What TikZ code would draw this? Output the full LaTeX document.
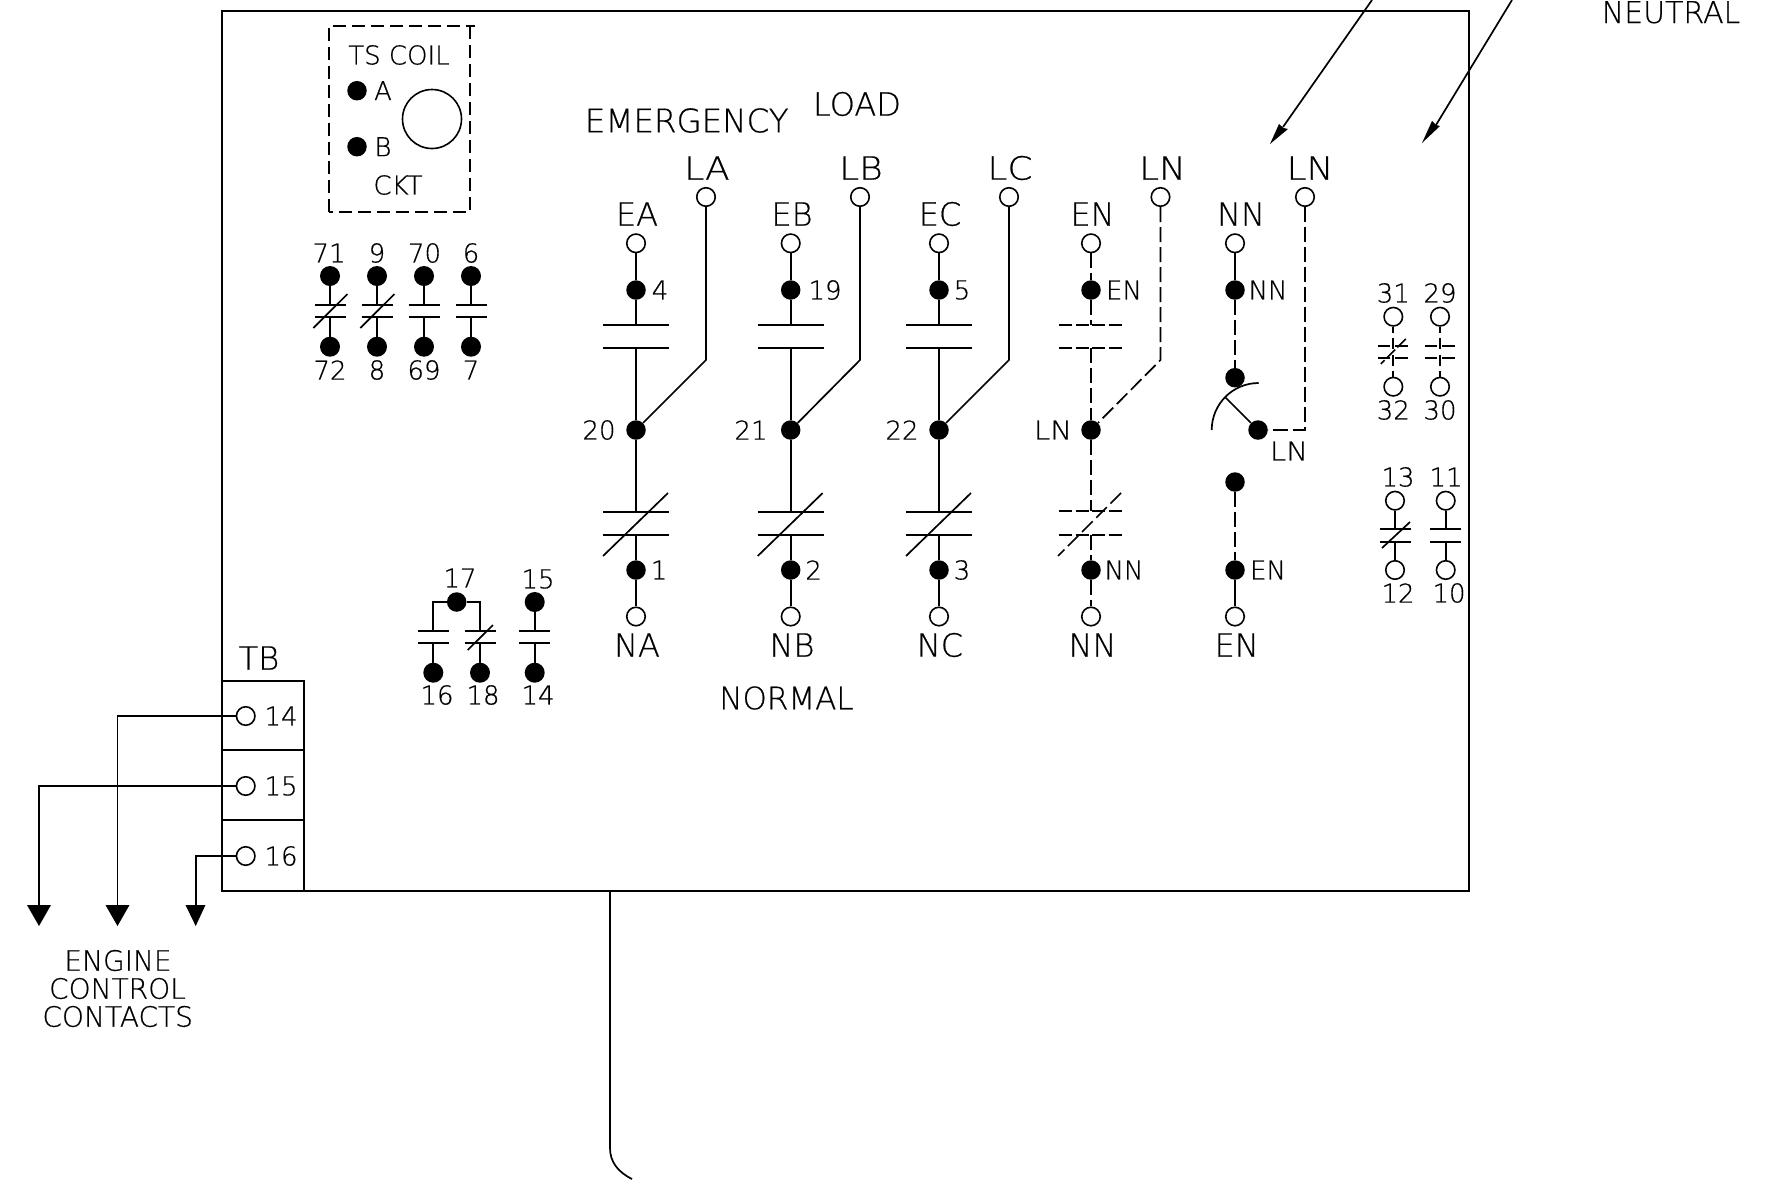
\documentclass[tikz,border=0pt]{standalone}
\usepackage{fontspec}
\setmainfont[FakeBold=0.5]{DejaVu Sans ExtraLight}
\usetikzlibrary{calc}
\tikzset{
  x=1pt,y=-1pt,
  wire/.style={line width=1.7pt,black},
  dwire/.style={line width=1.7pt,black,dash pattern=on 15pt off 5pt},
  dbar/.style={line width=1.7pt,black,dash pattern=on 13pt off 3.5pt},
  hollow/.style={circle,draw=black,line width=1.6pt,fill=white,minimum size=18.5pt,inner sep=0pt},
  solid dot/.style={circle,fill=black,minimum size=19.5pt,inner sep=0pt},
  big/.style={inner sep=0pt,font=\fontsize{32}{32}\selectfont},
  small/.style={inner sep=0pt,font=\fontsize{26}{26}\selectfont},
  mini/.style={inner sep=0pt,font=\fontsize{28}{28}\selectfont},
  tip/.style={fill=black,draw=none},
}
\newcommand{\wl}[1]{\scalebox{1.12}[1]{#1}}
\newcommand{\barpair}[6]{%
  \coordinate (#1ua) at (#2-#5,#3); \coordinate (#1ub) at (#2+#5,#3);
  \coordinate (#1la) at (#2-#5,#4); \coordinate (#1lb) at (#2+#5,#4);
  \draw[#6] (#1ua) -- (#1ub);
  \draw[#6] (#1la) -- (#1lb);
}
\begin{document}
\begin{tikzpicture}
\useasboundingbox (0,0) rectangle (1772,1179);
\fill[white] (0,0) rectangle (1772,1179);

% enclosure
\coordinate (bl) at (222,891); \coordinate (tr) at (1469,11);
\draw[wire] (bl) rectangle (tr);
% terminal block
\draw[wire] (222,681) rectangle (304,891);
\draw[wire] (222,750) -- (304,750);
\draw[wire] (222,820) -- (304,820);
\node[big] (tb) at (259,658) {TB};
\node[hollow] (t14) at (245.7,716) {};
\node[hollow] (t15) at (245.7,786) {};
\node[hollow] (t16) at (245.7,856) {};
\node[small] (l14) at (281,716) {14};
\node[small] (l15) at (281,786) {15};
\node[small] (l16) at (281,856) {16};
\coordinate (a14) at (117.5,906); \coordinate (a15) at (39,906); \coordinate (a16) at (195.7,906);
\draw[wire] (t14.west) -| (a14);
\draw[wire] (t15.west) -| (a15);
\draw[wire] (t16.west) -| (a16);
\fill[tip] (105.5,905) -- (129.5,905) -- (117.5,926) -- cycle;
\fill[tip] (27,905) -- (51,905) -- (39,926) -- cycle;
\fill[tip] (185.5,905) -- (205.5,905) -- (195.7,926) -- cycle;
\node[mini] (eng1) at (118,960.5) {ENGINE};
\node[mini] (eng2) at (117.5,988.5) {CONTROL};
\node[mini] (eng3) at (117.7,1016.5) {CONTACTS};

% cable below
\coordinate (c0) at (610,891);
\draw[wire] (c0) -- (610,1148) .. controls (610,1162) and (618,1172) .. (632,1179);

% feed arrows
\coordinate (f1) at (1372,0); \coordinate (f2) at (1512,0);
\draw[wire] (f1) -- (1283,127);
\draw[wire] (f2) -- (1436,125);
\fill[tip] (1270,144) -- (1279,124) -- (1283.5,128) -- (1288,129) -- cycle;
\fill[tip] (1422,143) -- (1432,121) -- (1436,125) -- (1440,126) -- cycle;
\node[big,anchor=base,font=\fontsize{30}{30}\selectfont] (neu) at (1671,23) {NEUTRAL};

% TS coil box
\draw[line width=1.6pt,dash pattern=on 13pt off 6pt] (329,212) -- (329,26) -- (475,26);
\draw[line width=1.6pt,dash pattern=on 13pt off 6pt] (470,26) -- (470,212) -- (329,212);
\node[small] (ts) at (399,55) {TS COIL};
\node[solid dot] (da) at (357,90.7) {};
\node[solid dot] (db) at (357,146.7) {};
\node[small] (la) at (383,90.7) {A};
\node[small] (lb) at (383,146.7) {B};
\draw[line width=1.6pt] (432,119) circle (29.5);
\node[small] (ckt) at (398,185) {CKT};

% small contacts top left
\foreach \n/\x/\t/\b/\tx/\bx/\sl in {a/330/71/72/329/330/1,b/377/9/8/377/377/1,c/424/70/69/424.5/424/0,d/471/6/7/471/471/0}{
  \node[solid dot,minimum size=20pt] (\n t) at (\x,276) {};
  \node[solid dot,minimum size=20pt] (\n b) at (\x,346.7) {};
  \barpair{\n}{\x}{305}{316.7}{15.5}{wire}
  \draw[wire] (\n t) -- (\x,305);
  \draw[wire] (\n b) -- (\x,316.7);
  \ifnum\sl=1 \draw[wire] (\x-16.7,328) -- (\x+17.5,294); \fi
  \node[small] at (\tx,253) {\t};
  \node[small] at (\bx,370) {\b};
}

% lower-left group
\node[solid dot] (d17) at (456.7,602) {};
\node[solid dot,minimum size=20pt] (d15) at (534.7,602) {};
\node[solid dot,minimum size=20pt] (d16) at (433.3,672.7) {};
\node[solid dot,minimum size=20pt] (d18) at (480,672.7) {};
\node[solid dot,minimum size=20pt] (d14) at (534.7,672.7) {};
\barpair{p}{433.3}{631}{643.3}{15.5}{wire}
\barpair{q}{480}{631}{643.3}{15.5}{wire}
\barpair{r}{534.7}{631}{643.3}{15.5}{wire}
\draw[wire] (d17) -| (433.3,631);
\draw[wire] (d17) -| (480,631);
\draw[wire] (d16) -- (433.3,643.3);
\draw[wire] (d18) -- (480,643.3);
\draw[wire] (d15) -- (534.7,631);
\draw[wire] (d14) -- (534.7,643.3);
\draw[wire] (467.7,650) -- (493,625);
\node[small] at (460,578) {17};
\node[small] at (538,579) {15};
\node[small] at (437,695) {16};
\node[small] at (483,695) {18};
\node[small] at (538,695) {14};

% main poles
\node[big,font=\fontsize{32.5}{32.5}\selectfont] at (686.7,120.5) {EMERGENCY};
\node[big] at (857,104) {LOAD};
\node[big,font=\fontsize{31}{31}\selectfont] at (786.5,698) {NORMAL};
\foreach \n/\x/\lx/\upn/\lon/\mid/\midx/\up/\lo/\dig/\topl/\lotxt/\txx/\ltxx/\botx in {
  a/636/706/4/1/20/599/EA/LA/660/637/NA/659/707/637,
  b/790.7/860/19/2/21/751/EB/LB/825/792/NB/813.6/861/792,
  c/939/1009/5/3/22/902/EC/LC/962/940/NC/962/1010/940}{
  \node[hollow] (\n e) at (\x,243.3) {};
  \node[hollow] (\n l) at (\lx,197) {};
  \node[solid dot] (\n d1) at (\x,290) {};
  \node[solid dot] (\n d2) at (\x,430) {};
  \node[solid dot] (\n d3) at (\x,570) {};
  \node[hollow] (\n n) at (\x,616.5) {};
  \barpair{\n A}{\x}{325}{348}{33}{wire}
  \barpair{\n B}{\x}{512}{535}{33}{wire}
  \draw[wire] (\n e) -- (\n d1) -- (\x,325);
  \draw[wire] (\x,348) -- (\n d2) -- (\x,512);
  \draw[wire] (\x,535) -- (\n d3) -- (\n n);
  \draw[wire] (\n l) -- (\lx,360) -- (\n d2);
  \draw[wire] (\x-33,556) -- (\x+32,493);
  \node[big] at (\topl,214) {\up};
  \node[big] at (\ltxx,168) {\wl{\lo}};
  \node[big] at (\botx,645) {\lotxt};
  \node[small] at (\dig,290) {\upn};
  \node[small] at (\txx,570) {\lon};
  \node[small] at (\midx,430) {\mid};
}

% EN / LN dashed pole
\node[hollow] (ne) at (1091,243.3) {};
\node[hollow] (nl) at (1160.5,197) {};
\node[solid dot] (nd1) at (1091,290) {};
\node[solid dot] (nd2) at (1091,430) {};
\node[solid dot] (nd3) at (1091,570) {};
\node[hollow] (nn) at (1091,616.5) {};
\barpair{nA}{1091}{325}{348}{32}{dbar}
\barpair{nB}{1091}{511}{535}{32}{dbar}
\draw[dwire] (ne) -- (nd1);
\draw[dwire] (nd1) -- (1091,325);
\draw[dwire] (1091,348) -- (nd2);
\draw[dwire] (nd2) -- (1091,511);
\draw[dwire] (1091,535) -- (nd3);
\draw[dwire] (nd3) -- (nn);
\draw[dwire] (nl) -- (1160.5,360) -- (nd2);
\draw[dwire] (1121,493) -- (1058,556);
\node[big] at (1092.5,214) {EN};
\node[big] at (1162.5,168) {\wl{LN}};
\node[big] at (1092.5,645) {NN};
\node[small] at (1124,290) {EN};
\node[small] at (1124,570) {NN};
\node[small] at (1053,430) {\wl{LN}};

% NN / LN transfer
\node[hollow] (me) at (1235,243.3) {};
\node[hollow] (ml) at (1305,197) {};
\node[solid dot] (md1) at (1235,290) {};
\node[solid dot] (md2) at (1235,377.7) {};
\node[solid dot] (md3) at (1258,430) {};
\node[solid dot] (md4) at (1235,482) {};
\node[solid dot] (md5) at (1235,570) {};
\node[hollow] (mn) at (1235,616.5) {};
\draw[wire] (me) -- (md1);
\draw[dwire] (md1) -- (md2);
\draw[dwire] (md4) -- (md5);
\draw[wire] (md5) -- (mn);
\draw[dwire] (ml) |- (md3);
\draw[wire] (md3) -- (1225,397);
\draw[wire] (1211.7,430) arc[start angle=180,end angle=270,radius=47];
\node[big] at (1241,214) {NN};
\node[big] at (1310,168) {\wl{LN}};
\node[big] at (1236.7,645) {EN};
\node[small] at (1268,290) {NN};
\node[small] at (1289,451) {\wl{LN}};
\node[small] at (1268,570) {EN};

% right contacts, dashed pair
\foreach \n/\x/\t/\b/\sl in {u/1393.3/31/32/1,v/1440/29/30/0}{
  \node[hollow] (\n t) at (\x,316.7) {};
  \node[hollow] (\n b) at (\x,386.7) {};
  \coordinate (\n ua) at (\x-15,346); \coordinate (\n ub) at (\x+15,346);
  \coordinate (\n la) at (\x-15,358); \coordinate (\n lb) at (\x+15,358);
  \draw[wire] (\n ua) -- (\x-3,346) (\x+2,346) -- (\n ub);
  \draw[wire] (\n la) -- (\x-3,358) (\x+2,358) -- (\n lb);
  \draw[wire] (\n t) -- (\x,333) (\x,338) -- (\x,349);
  \draw[wire] (\n b) -- (\x,371) (\x,355) -- (\x,366);
  \ifnum\sl=1 \draw[line width=1.6pt,dash pattern=on 12pt off 3pt] (\x+12.5,339) -- (\x-12.5,364); \fi
  \node[small] at (\x,293) {\t};
  \node[small] at (\x,410) {\b};
}
\foreach \n/\x/\t/\b/\tx/\bx/\sl in {w/1395/13/12/1398/1398/1,z/1445.7/11/10/1446/1449/0}{
  \node[hollow] (\n t) at (\x,500.7) {};
  \node[hollow] (\n b) at (\x,570) {};
  \barpair{\n}{\x}{529}{541.7}{15.5}{wire}
  \draw[wire] (\n t) -- (\x,529);
  \draw[wire] (\n b) -- (\x,541.7);
  \ifnum\sl=1 \draw[wire] (\x-13,548) -- (\x+15,522); \fi
  \node[small] at (\tx,477) {\t};
  \node[small] at (\bx,593) {\b};
}
\end{tikzpicture}
\end{document}
